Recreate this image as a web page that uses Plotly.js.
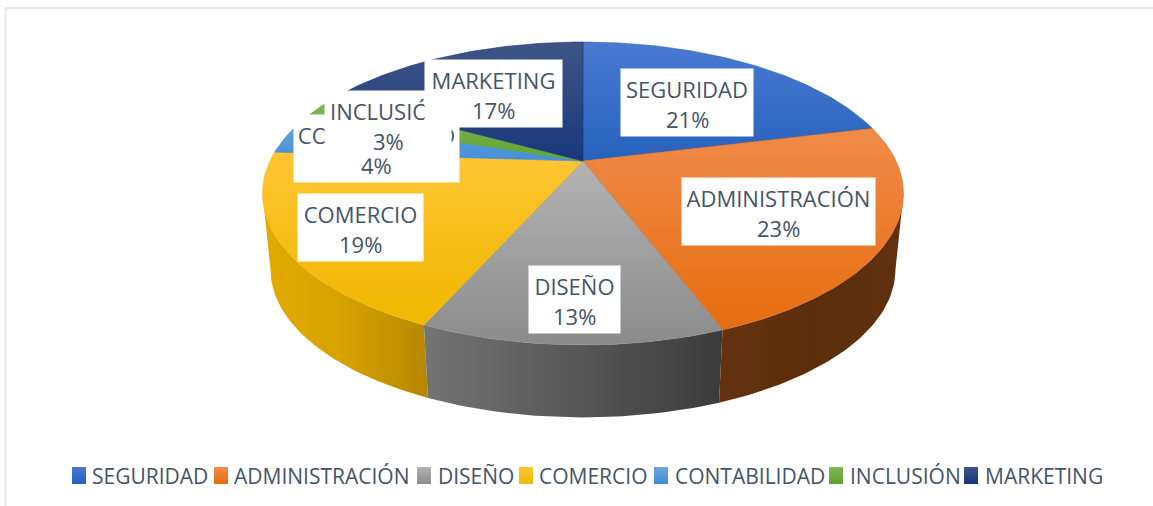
<!DOCTYPE html>
<html><head><meta charset="utf-8">
<script src="https://cdn.plot.ly/plotly-3.0.1.min.js"></script>
<style>html,body{margin:0;padding:0;background:#fff}#chart{width:1153px;height:506px}</style>
</head><body><div id="chart"></div>
<script>
// DATA
const categories = ['SEGURIDAD','ADMINISTRACIÓN','DISEÑO','COMERCIO','CONTABILIDAD','INCLUSIÓN','MARKETING'];
const percentages = [21.2, 23, 12.5, 19.3, 4, 3, 17];

// STYLE
const faceTop    = ['#4a7ad0','#f08c4c','#b4b4b4','#ffc535','#6ba6de','#80b85a','#3f5587'];
const faceBottom = ['#2561bd','#e66d10','#8b8b8b','#f0b800','#3f8dd6','#5fa32e','#17367a'];
const wallStops  = {1:['#643210','#5c2d0a','#603010'],2:['#747474','#575757','#3b3b3b'],3:['#e2ab00','#d5a200','#b58700']};
const textColor = '#44546a';
const fontFamily = '"Open Sans", sans-serif';

// LAYOUT of the drawing (pixels of the axes)
const centre = {x:583, yTop:161, yBottom:238};
const R = 313, K = 144.5, P = 0.2146, bottomScale = 0.975;
const labelBoxes = [[621,753,69],[682,875,178],[529,620,266],[298,423,194],[294,459,115],[325,451,91],[425,562,60]];
const boxHeight = 67, boxPad = 5;
const swatchLeft = [72,214,417,519,654,829,964];
const legendTextLeft = [91,233,437,538,674,849,984];

function project(deg, yc, s){
  const t = deg*Math.PI/180, w = 1 + P*Math.cos(t);
  return [centre.x + s*R*Math.sin(t)/w, yc - s*K*Math.cos(t)/w];
}
function arc(a,b,yc,s){
  const n = Math.max(2,Math.ceil(Math.abs(b-a))), pts=[];
  for(let i=0;i<=n;i++) pts.push(project(a+(b-a)*i/n,yc,s));
  return pts;
}
const traces = [], annotations = [];
const bounds = []; let acc = 0;
percentages.forEach(v=>{bounds.push([acc*3.6,(acc+v)*3.6]); acc+=v;});

// side walls: each stops at the disc's left/right extreme, so the closing edge is the silhouette
const extreme = Math.acos(-P)*180/Math.PI;
[3,2,1].forEach(i=>{
  const a=Math.max(bounds[i][0],extreme), b=Math.min(bounds[i][1],360-extreme);
  const pts = arc(a,b,centre.yTop,1).concat(arc(b,a,centre.yBottom,bottomScale));
  const c = wallStops[i];
  const xs = pts.map(p=>p[0]);
  traces.push({type:'scatter',mode:'lines',x:xs.concat(pts[0][0]),y:pts.map(p=>p[1]).concat(pts[0][1]),
    fill:'toself',line:{width:0,color:c[1]},hoverinfo:'skip',showlegend:false,
    fillgradient:{type:'horizontal',start:Math.min(...xs),stop:Math.max(...xs),colorscale:[[0,c[0]],[0.5,c[1]],[1,c[2]]]}});
});
// top faces
const faceSpan = [[42,165],[120,330],[161,345],[150,325],[120,165],[100,165],[42,165]];
categories.forEach((name,i)=>{
  const [a,b]=bounds[i];
  const pts=[[centre.x,centre.yTop]].concat(arc(a,b,centre.yTop,1)); pts.push(pts[0]);
  traces.push({type:'scatter',mode:'lines',x:pts.map(p=>p[0]),y:pts.map(p=>p[1]),name,
    fill:'toself',line:{width:0.6,color:faceBottom[i]},hoverinfo:'skip',showlegend:false,
    fillgradient:{type:'vertical',start:faceSpan[i][0],stop:faceSpan[i][1],colorscale:[[0,faceTop[i]],[1,faceBottom[i]]]}});
});
// data labels
categories.forEach((name,i)=>{
  const [l,r,t]=labelBoxes[i];
  annotations.push({xref:'x',yref:'y',x:(l+r)/2,y:t+boxHeight/2,width:r-l-2*boxPad,height:boxHeight-2*boxPad,xanchor:'center',yanchor:'middle',
    text:name,showarrow:false,bgcolor:'#ffffff',align:'center',valign:'top',borderpad:boxPad,
    font:{family:fontFamily,size:22,color:textColor}});
  annotations.push({xref:'x',yref:'y',x:(l+r)/2,y:t+50,xanchor:'center',yanchor:'middle',
    text:Math.round(percentages[i])+'%',showarrow:false,borderpad:0,
    font:{family:fontFamily,size:22,color:textColor}});
});
// legend
categories.forEach((name,i)=>{
  const l=swatchLeft[i], r=l+14, t=467, b=484;
  traces.push({type:'scatter',mode:'lines',x:[l,r,r,l,l],y:[t,t,b,b,t],fill:'toself',line:{width:0,color:faceBottom[i]},
    hoverinfo:'skip',showlegend:false,
    fillgradient:{type:'vertical',start:t,stop:b,colorscale:[[0,faceTop[i]],[1,faceBottom[i]]]}});
  annotations.push({xref:'x',yref:'y',x:legendTextLeft[i],y:475.5,xanchor:'left',yanchor:'middle',text:name,showarrow:false,
    borderpad:0,font:{family:fontFamily,size:21,color:textColor}});
});
const frame = {type:'line',xref:'x',yref:'y',line:{color:'#e3e6ec',width:2}};
Plotly.newPlot('chart',traces,{
  width:1153,height:506,margin:{l:0,r:0,t:0,b:0},paper_bgcolor:'#ffffff',plot_bgcolor:'#ffffff',showlegend:false,
  xaxis:{range:[0,1153],visible:false,fixedrange:true},
  yaxis:{range:[506,0],visible:false,fixedrange:true},
  annotations,
  shapes:[Object.assign({},frame,{x0:5,x1:1153,y0:8,y1:8}),Object.assign({},frame,{x0:5.5,x1:5.5,y0:8,y1:506})]
},{displayModeBar:false,staticPlot:true});
</script></body></html>
